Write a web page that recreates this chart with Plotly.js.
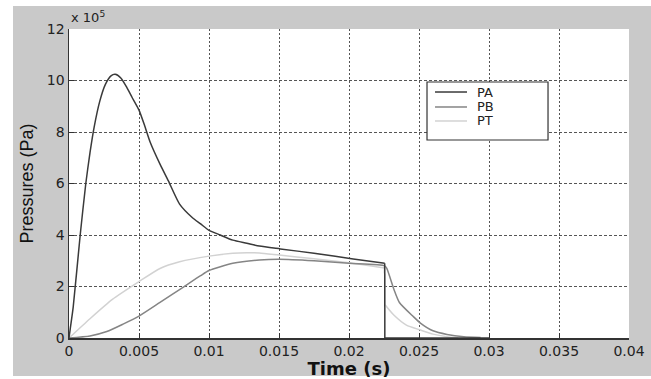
<!DOCTYPE html>
<html>
<head>
<meta charset="utf-8">
<script src="https://cdn.plot.ly/plotly-3.0.1.min.js"></script>
<style>html,body{margin:0;padding:0;background:#fff;}#chart{width:651px;height:379px;}</style>
</head>
<body>
<div id="chart"></div>
<script>
// Values in units of 1e5 Pa (axis shows "x 10^5")
var seriesNames = ['PA', 'PB', 'PT'];

var tPA = [0, 0.0001, 0.0003, 0.0008, 0.0012, 0.0015, 0.0018, 0.0022, 0.0026, 0.003, 0.0033, 0.0037, 0.0041, 0.0045, 0.005, 0.0054, 0.0058, 0.0065, 0.0071, 0.0079, 0.0088, 0.0094, 0.01, 0.0108, 0.0117, 0.0127, 0.0136, 0.0151, 0.0175, 0.0203, 0.02255, 0.02256, 0.03];
var PA  = [0, 0.4, 1.2, 4.0, 6.0, 7.2, 8.2, 9.2, 9.85, 10.18, 10.24, 10.1, 9.76, 9.35, 8.85, 8.25, 7.6, 6.75, 6.1, 5.2, 4.68, 4.43, 4.18, 4.0, 3.8, 3.68, 3.57, 3.46, 3.29, 3.07, 2.9, 0, 0];

var tPB = [0, 0.0015, 0.0027, 0.0039, 0.005, 0.0065, 0.0082, 0.0094, 0.01, 0.0117, 0.0136, 0.015, 0.0175, 0.02, 0.02255, 0.0227, 0.0232, 0.0236, 0.0246, 0.0251, 0.026, 0.027, 0.0282, 0.0294];
var PB  = [0, 0.08, 0.25, 0.55, 0.85, 1.38, 1.99, 2.42, 2.62, 2.9, 3.03, 3.06, 3.0, 2.9, 2.8, 2.7, 1.9, 1.38, 0.83, 0.58, 0.28, 0.14, 0.05, 0.02];

var tPT = [0, 0.0015, 0.0031, 0.005, 0.0065, 0.0079, 0.01, 0.0117, 0.0127, 0.0136, 0.015, 0.0175, 0.02, 0.02255, 0.02256, 0.0232, 0.0241, 0.0251, 0.026, 0.027, 0.0278];
var PT  = [0, 0.75, 1.5, 2.19, 2.7, 2.96, 3.18, 3.29, 3.31, 3.3, 3.22, 3.08, 2.92, 2.72, 1.3, 0.89, 0.5, 0.31, 0.15, 0.05, 0.01];

var xTicks = [0, 0.005, 0.01, 0.015, 0.02, 0.025, 0.03, 0.035, 0.04];
var xTickLabels = ['0', '0.005', '0.01', '0.015', '0.02', '0.025', '0.03', '0.035', '0.04'];
var yTicks = [0, 2, 4, 6, 8, 10, 12];
var yTickLabels = ['0', '2', '4', '6', '8', '10', '12'];

var colors = ['#3a3a3a', '#858585', '#d2d2d2'];
var lineW = 1.5;

// Each series is drawn in pieces: smooth (spline) pieces, and straight pieces at the valve-closing jump.
function piece(x, y, i, from, to, smooth) {
  return {x: x.slice(from, to + 1), y: y.slice(from, to + 1), name: seriesNames[i], mode: 'lines',
          showlegend: false, hoverinfo: 'skip',
          line: {color: colors[i], width: lineW, shape: smooth ? 'spline' : 'linear', smoothing: 0.6}};
}
function jumpIndex(x) { // index of the first point of the vertical jump
  for (var k = 1; k < x.length; k++) { if (x[k] - x[k - 1] < 0.00005) return k - 1; }
  return -1;
}
function series(x, y, i) {
  var j = jumpIndex(x);
  if (j < 0) return [piece(x, y, i, 0, x.length - 1, true)];
  return [piece(x, y, i, 0, j, true), piece(x, y, i, j, j + 1, false), piece(x, y, i, j + 1, x.length - 1, true)];
}
// draw light first so darker lines stay on top
var traces = [].concat(series(tPT, PT, 2), series(tPB, PB, 1), series(tPA, PA, 0));

var tickFont = {family: 'DejaVu Sans, sans-serif', size: 14, color: '#222'};

// manual MATLAB-style legend geometry (paper coords)
var lgX0 = 0.6393, lgX1 = 0.8554, lgY0 = 0.6408, lgY1 = 0.8285;
var lgLineX0 = 0.6536, lgLineX1 = 0.7107, lgTextX = 0.725;
var lgRowsY = [0.7961, 0.7476, 0.7023];

var shapes = [
  {type: 'rect', xref: 'paper', yref: 'paper', x0: -0.1, x1: 1.06, y0: -0.123, y1: 1.0744,
   fillcolor: '#c9c9c9', line: {width: 0}, layer: 'below'},
  {type: 'rect', xref: 'paper', yref: 'paper', x0: 0, x1: 1, y0: 0, y1: 1,
   fillcolor: '#ffffff', line: {width: 0}, layer: 'below'},
  {type: 'rect', xref: 'paper', yref: 'paper', x0: lgX0, x1: lgX1, y0: lgY0, y1: lgY1,
   fillcolor: '#ffffff', line: {color: '#333', width: 1.2}, layer: 'above'}
];
var annotations = [
  {xref: 'paper', yref: 'paper', x: 0.0, y: 1.0, xanchor: 'left', yanchor: 'bottom', yshift: 2,
   text: 'x 10<sup>5</sup>', showarrow: false, font: {family: 'DejaVu Sans, sans-serif', size: 13, color: '#222'}}
];
for (var i = 0; i < seriesNames.length; i++) {
  shapes.push({type: 'line', xref: 'paper', yref: 'paper', x0: lgLineX0, x1: lgLineX1, y0: lgRowsY[i], y1: lgRowsY[i],
    line: {color: colors[i], width: lineW}, layer: 'above'});
  annotations.push({xref: 'paper', yref: 'paper', x: lgTextX, y: lgRowsY[i], xanchor: 'left', yanchor: 'middle',
    text: seriesNames[i], showarrow: false, font: {family: 'DejaVu Sans, sans-serif', size: 13, color: '#222'}});
}

var layout = {
  width: 651, height: 379,
  margin: {l: 69, r: 22, t: 29, b: 41, pad: 0},
  paper_bgcolor: '#ffffff',
  plot_bgcolor: 'rgba(0,0,0,0)',
  showlegend: false,
  xaxis: {
    range: [0, 0.04], tickmode: 'array', tickvals: xTicks, ticktext: xTickLabels,
    ticks: 'inside', ticklen: 5, tickcolor: '#333', tickwidth: 1,
    showline: true, linecolor: '#333', linewidth: 1.5,
    showgrid: true, gridcolor: '#555', gridwidth: 1, griddash: '2px,2px',
    zeroline: false, tickfont: tickFont, automargin: false,
    title: {text: 'Time (s)', font: {family: 'DejaVu Sans, sans-serif', size: 18, color: '#111', weight: 'bold'}, standoff: 5}
  },
  yaxis: {
    range: [0, 12], tickmode: 'array', tickvals: yTicks, ticktext: yTickLabels,
    ticks: 'inside', ticklen: 5, tickcolor: '#333', tickwidth: 1,
    showline: true, linecolor: '#333', linewidth: 1.5,
    showgrid: true, gridcolor: '#555', gridwidth: 1, griddash: '3px,2px',
    zeroline: false, tickfont: tickFont, automargin: false,
    title: {text: 'Pressures (Pa)', font: {family: 'Liberation Sans, Arial, sans-serif', size: 18, color: '#111'}, standoff: 8}
  },
  shapes: shapes,
  annotations: annotations
};

Plotly.newPlot('chart', traces, layout, {displayModeBar: false, staticPlot: true});
</script>
</body>
</html>
